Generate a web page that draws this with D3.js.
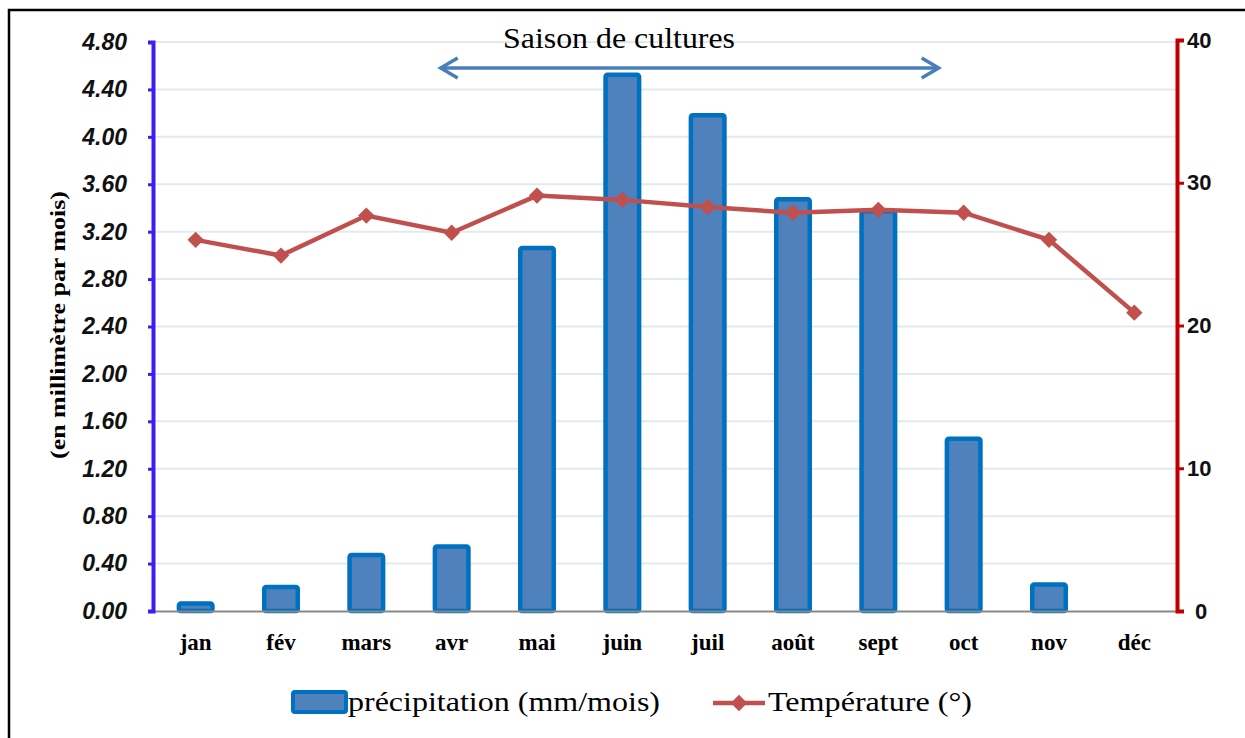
<!DOCTYPE html>
<html><head><meta charset="utf-8">
<script src="https://cdn.jsdelivr.net/npm/d3@7"></script>
<style>body{margin:0;background:#fff}svg{display:block}</style>
</head><body>
<svg id="chart" width="1245" height="738"></svg>
<script>
const months = ["jan","fév","mars","avr","mai","juin","juil","août","sept","oct","nov","déc"];
const precipitation = [0.08,0.22,0.49,0.56,3.08,4.54,4.20,3.49,3.39,1.47,0.24,0];
const temperature = [26.0,24.9,27.7,26.5,29.1,28.8,28.3,27.9,28.1,27.9,26.0,20.9];
const leftTicks = [0,0.4,0.8,1.2,1.6,2.0,2.4,2.8,3.2,3.6,4.0,4.4,4.8];
const rightTicks = [0,10,20,30,40];
const seasonStart = "avr", seasonEnd = "oct";

const svg = d3.select("#chart");
const L = 153, R = 1177, T = 42, B = 611;

// frame
svg.append("rect").attr("x",9).attr("y",10).attr("width",1260).attr("height",760)
  .attr("fill","none").attr("stroke","#000").attr("stroke-width",2.5);

const x = d3.scaleBand().domain(months).range([L,R]).paddingInner(0.56).paddingOuter(0.28);
const yL = d3.scaleLinear().domain([0,4.8]).range([B,T]);
const yR = d3.scaleLinear().domain([0,40]).range([B,40]);

// gridlines
svg.append("g").selectAll("line").data(leftTicks.filter(d=>d>0)).join("line")
  .attr("x1",L).attr("x2",R).attr("y1",d=>yL(d)).attr("y2",d=>yL(d))
  .attr("stroke","#e6e9ec").attr("stroke-width",2);

// bars
svg.append("g").selectAll("rect").data(precipitation).join("rect")
  .attr("x",(d,i)=>x(months[i])+2).attr("width",x.bandwidth()-4)
  .attr("y",d=>yL(d)+2).attr("height",d=>Math.max(0,B-yL(d)-2))
  .attr("rx",2)
  .attr("fill","#4f81bd").attr("stroke","#0070c0").attr("stroke-width",4.5)
  .attr("display",d=>d>0?null:"none");

// x axis
const xAxis = svg.append("g").attr("transform",`translate(0,${B})`)
  .call(d3.axisBottom(x).tickSize(0).tickPadding(23));
xAxis.select(".domain").attr("stroke","#888").attr("stroke-width",2);
xAxis.selectAll("text").attr("font-family","'Liberation Serif',serif").attr("font-weight","bold")
  .attr("font-size",23).attr("fill","#000");

// left axis
const lAxis = svg.append("g").attr("transform",`translate(${L},0)`)
  .call(d3.axisLeft(yL).tickValues(leftTicks).tickFormat(d3.format(".2f")).tickSize(5).tickPadding(21));
lAxis.select(".domain").attr("stroke","#3a1ff0").attr("stroke-width",4);
lAxis.selectAll(".tick line").attr("stroke","#3a1ff0").attr("stroke-width",3);
lAxis.selectAll("text").attr("font-family","'Liberation Sans',sans-serif").attr("font-weight","bold")
  .attr("font-style","italic").attr("font-size",23).attr("fill","#111");

// right axis
const rAxis = svg.append("g").attr("transform",`translate(${R},0)`)
  .call(d3.axisRight(yR).tickValues(rightTicks).tickSize(7).tickPadding(3));
rAxis.select(".domain").attr("stroke","#c00000").attr("stroke-width",4);
rAxis.selectAll(".tick line").attr("stroke","#c00000").attr("stroke-width",3);
rAxis.selectAll("text").attr("font-family","'Liberation Sans',sans-serif").attr("font-weight","bold")
  .attr("font-size",22).attr("fill","#111");
rAxis.selectAll(".tick").filter(d=>d===0).select("text").attr("dx",8);

// temperature line
const cx = m => x(m)+x.bandwidth()/2;
const line = d3.line().x((d,i)=>cx(months[i])).y(d=>yR(d));
svg.append("path").datum(temperature).attr("d",line)
  .attr("fill","none").attr("stroke","#c0504d").attr("stroke-width",4.5);
svg.append("g").selectAll("path").data(temperature).join("path")
  .attr("transform",(d,i)=>`translate(${cx(months[i])},${yR(d)})`)
  .attr("d",d3.symbol(d3.symbolDiamond2,170)())
  .attr("fill","#c0504d");

// Y title
svg.append("text").attr("transform","translate(65,325) rotate(-90)")
  .attr("text-anchor","middle").attr("font-family","'Liberation Serif',serif")
  .attr("font-weight","bold").attr("font-size",22)
  .attr("textLength",268).attr("lengthAdjust","spacingAndGlyphs")
  .text("(en millimètre par mois)");

// season arrow
const ax1 = cx(seasonStart)-11, ax2 = cx(seasonEnd)-25, ay = 68;
svg.append("line").attr("x1",ax1).attr("x2",ax2).attr("y1",ay).attr("y2",ay)
  .attr("stroke","#4a7ebb").attr("stroke-width",3.5);
svg.append("path").attr("d",`M${ax1+17},${ay-10} L${ax1},${ay} L${ax1+17},${ay+10}`)
  .attr("fill","none").attr("stroke","#4a7ebb").attr("stroke-width",3.5);
svg.append("path").attr("d",`M${ax2-17},${ay-10} L${ax2},${ay} L${ax2-17},${ay+10}`)
  .attr("fill","none").attr("stroke","#4a7ebb").attr("stroke-width",3.5);
svg.append("text").attr("x",503).attr("y",48)
  .attr("font-family","'Liberation Serif',serif").attr("font-size",29)
  .attr("textLength",232).attr("lengthAdjust","spacingAndGlyphs").text("Saison de cultures");

// legend
svg.append("rect").attr("x",293).attr("y",692).attr("width",53).attr("height",20).attr("rx",2)
  .attr("fill","#4f81bd").attr("stroke","#0070c0").attr("stroke-width",4);
svg.append("text").attr("x",348).attr("y",711).attr("font-family","'Liberation Serif',serif")
  .attr("font-size",27).attr("textLength",312).attr("lengthAdjust","spacingAndGlyphs")
  .text("précipitation (mm/mois)");
svg.append("line").attr("x1",713).attr("x2",765).attr("y1",703).attr("y2",703)
  .attr("stroke","#c0504d").attr("stroke-width",4.5);
svg.append("path").attr("transform","translate(739,703)").attr("d",d3.symbol(d3.symbolDiamond2,170)())
  .attr("fill","#c0504d");
svg.append("text").attr("x",768).attr("y",711).attr("font-family","'Liberation Serif',serif")
  .attr("font-size",27).attr("textLength",204).attr("lengthAdjust","spacingAndGlyphs")
  .text("Température (°)");
</script>
</body></html>
